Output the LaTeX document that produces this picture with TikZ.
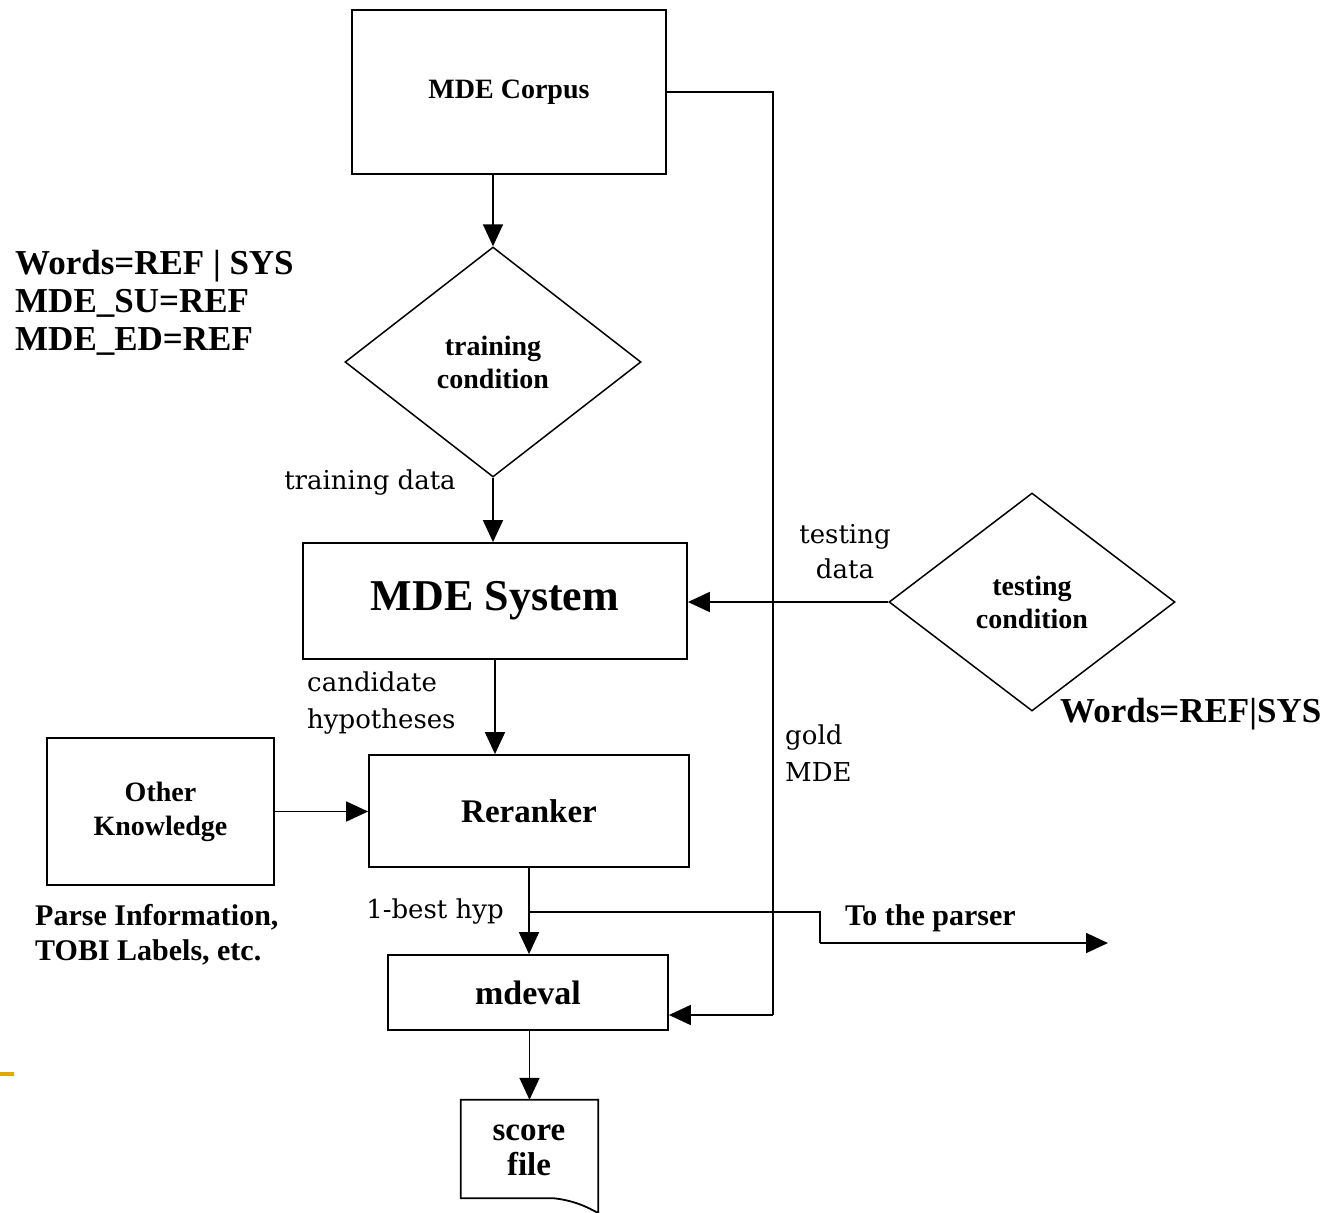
\documentclass[tikz,border=0pt]{standalone}
\usepackage{fontspec}
\usetikzlibrary{shapes.geometric,arrows.meta}
\newfontfamily\boxfont{Liberation Serif}
\newfontfamily\labfont{DejaVu Serif}
\newcommand{\fs}[2]{\fontsize{#1}{#2}\selectfont}
\tikzset{
  flow/.style={line width=1.8pt},
  arr/.style={flow,-{Triangle[length=22pt,width=20pt]}},
  procbox/.style={draw,line width=1.8pt,inner sep=0pt,align=center,
                  font=\boxfont\bfseries\fs{28}{34}},
  decision/.style={draw,diamond,line width=1.5pt,inner sep=0pt,align=center,
                   font=\boxfont\bfseries\fs{28}{33}},
  lab/.style={inner sep=0pt,align=left,font=\labfont\fs{26}{37}},
  note/.style={inner sep=0pt,align=left,font=\boxfont\bfseries\fs{30}{35}},
}
\begin{document}
\begin{tikzpicture}[x=1pt,y=-1pt]
\useasboundingbox (0,0) rectangle (1326,1213);

% process boxes
\node[procbox,minimum width=314pt,minimum height=164pt] (corpus) at (509,92) {MDE Corpus};
\node[procbox,minimum width=384pt,minimum height=116pt,font=\boxfont\bfseries\fs{44}{50}] (system) at (495,601) {MDE System};
\node[procbox,minimum width=320pt,minimum height=112pt,font=\boxfont\bfseries\fs{33}{38}] (reranker) at (529,811) {Reranker};
\node[procbox,minimum width=227pt,minimum height=147pt,text width=200pt,align=center] (other) at (160.5,811.5) {Other\\Knowledge};
\node[procbox,minimum width=280pt,minimum height=75pt,font=\boxfont\bfseries\fs{34}{38}] (mdeval) at (528,992.5) {mdeval};

% decisions
\node[decision,minimum width=296pt,minimum height=230pt] (train) at (493,362) {training\\condition};
\node[decision,minimum width=286pt,minimum height=218pt] (test) at (1032,602) {testing\\condition};

% score file (document shape with a torn lower edge)
\node[inner sep=0pt,minimum width=137pt,minimum height=113pt] (score) at (529.5,1156.5) {};
\node[inner sep=0pt,align=center,font=\boxfont\bfseries\fs{33}{35}] (scoretext) at (529,1150) {score\\file};
\draw[line width=1.8pt] (score.south east) -- (score.north east) -- (score.north west)
  -- ([yshift=15pt]score.south west) -- ([xshift=-45pt,yshift=15pt]score.south east)
  .. controls ([xshift=-25pt,yshift=13pt]score.south east) and ([xshift=-10pt,yshift=6pt]score.south east) .. (score.south east);

% free end points
\coordinate (goldtop) at (773,92);
\coordinate (goldbot) at (773,1015);
\coordinate (split) at (529,912);
\coordinate (turn1) at (820,912);
\coordinate (turn2) at (820,943);
\coordinate (parser) at (1108,943);

% connectors
\draw[arr] (train.north |- corpus.south) -- (train.north);
\draw[arr] (train.south) -- (train.south |- system.north);
\draw[arr] (system.south) -- (system.south |- reranker.north);
\draw[arr] (test.west) -- (test.west -| system.east);
\draw[arr] (other.east) -- (other.east -| reranker.west);
\draw[arr] (reranker.south) -- (reranker.south |- mdeval.north);
\draw[flow] (split) -- (turn1) -- (turn2);
\draw[arr] (turn2) -- (parser);
\draw[flow] (corpus.east) -- (goldtop) -- (goldbot);
\draw[arr] (goldbot) -- (mdeval.east |- goldbot);
\draw[arr] (mdeval.south -| score.north) -- (score.north);

% labels
\node[note,anchor=west,font=\boxfont\bfseries\fs{35}{38}] (cond) at (15,303)
  {Words=REF | SYS\\MDE\_SU=REF\\MDE\_ED=REF};
\node[lab,anchor=center] (ltrain) at (370,483) {training data};
\node[lab,anchor=west] (lcand) at (307,703) {candidate\\hypotheses};
\node[lab,anchor=center,align=center,font=\labfont\fs{26}{35}] (ltest) at (845,552) {testing\\data};
\node[lab,anchor=west] (lgold) at (785,753) {gold\\MDE};
\node[lab,anchor=center] (lbest) at (435,912) {1-best hyp};
\node[note,anchor=west] (lparser) at (845,918) {To the parser};
\node[note,anchor=west] (lparse) at (35,935) {Parse Information,\\TOBI Labels, etc.};
\node[note,anchor=west,font=\boxfont\bfseries\fs{35}{38}] (lwords) at (1060,714) {Words=REF|SYS};

% accent rule at the left edge
\draw[line width=4pt,color={rgb,255:red,222;green,170;blue,0}] (0,1074) -- (14,1074);
\end{tikzpicture}
\end{document}
